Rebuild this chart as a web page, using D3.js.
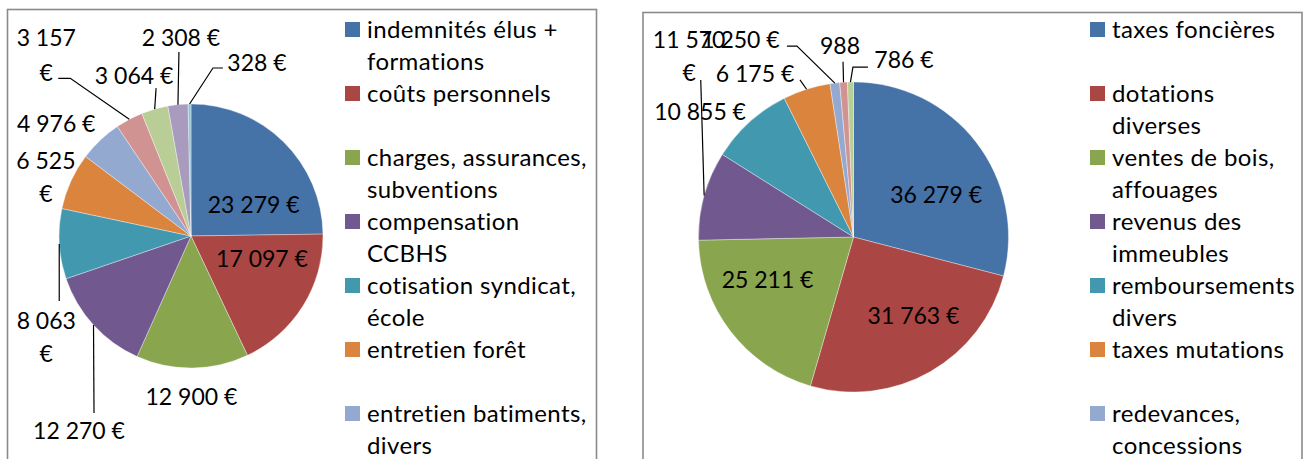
<!DOCTYPE html>
<html>
<head>
<meta charset="utf-8">
<script src="https://cdn.jsdelivr.net/npm/d3@7"></script>
<style>
  body { margin: 0; background: #fff; }
  svg { display: block; }
  text { font-family: Lato, "Open Sans", sans-serif; font-size: 23px; fill: #000; }
  .item text { font-size: 24px; letter-spacing: 0.4px; }
</style>
</head>
<body>
<svg id="chart" width="1306" height="459"></svg>
<script>
// dépenses (left pie)
var leftCategories = [
  "indemnités élus +\nformations",
  "coûts personnels\n",
  "charges, assurances,\nsubventions",
  "compensation\nCCBHS",
  "cotisation syndicat,\nécole",
  "entretien forêt\n",
  "entretien batiments,\ndivers",
  null, null, null, null   // legend entries cut off by the frame
];
var leftValues = [23279, 17097, 12900, 12270, 8063, 6525, 4976, 3157, 3064, 2308, 328];

// recettes (right pie)
var rightCategories = [
  "taxes foncières\n",
  "dotations\ndiverses",
  "ventes de bois,\naffouages",
  "revenus des\nimmeubles",
  "remboursements\ndivers",
  "taxes mutations\n",
  "redevances,\nconcessions",
  null, null
];
var rightValues = [36279, 31763, 25211, 11570, 10855, 6175, 1250, 988, 786];

var palette = ["#4572A7", "#AA4643", "#89A54E", "#71588F", "#4198AF", "#DB843D",
               "#93A9CF", "#D19392", "#B9CD96", "#A99BBD", "#92C5D5"];

// label layout: offset from the slice's outer mid point, optional wrap + leader elbows
var leftLabelLayout = [
  { dx: -30, dy: 63 },
  { dx: -41, dy: -47 },
  { dx: -1, dy: 29 },
  { dx: -14.5, dy: 106, leader: [[0.5, 88]] },
  { dx: -13, dy: 77, wrap: true, leader: [[0, 57]] },
  { dx: -25, dy: -21, wrap: true },
  { dx: -44, dy: -17 },
  { dx: -83, dy: -82, wrap: true, lineGap: 35, leader: [[-59, -41], [-71, -41]] },
  { dx: -20.6, dy: -33, leader: [[1.4, -21]] },
  { dx: 3, dy: -67, leader: [[1, -52.7]] },
  { dx: 67.4, dy: -41.5, leader: [[23.4, -36], [33.4, -36]] }
];
var rightLabelLayout = [
  { dx: -40, dy: 52 },
  { dx: -16.6, dy: -56 },
  { dx: 37, dy: -52 },
  { dx: -15, dy: -155.6, wrap: true, leader: [[-3.4, -115.6]] },
  { dx: -49.4, dy: -10 },
  { dx: -51.6, dy: -15.3, leader: [[-6.6, -9.3]] },
  { dx: -94.4, dy: -43, leader: [[-37.9, -37.1], [-47.9, -37.1]] },
  { dx: -3.5, dy: -37, noUnit: true, leader: [[-0.5, -20.5]] },
  { dx: 53.5, dy: -22, leader: [[2.5, -15], [17.5, -15]] }
];

var fr = d3.formatLocale({ decimal: ",", thousands: " ", grouping: [3], currency: ["", " €"] });
var euro = fr.format("$,.0f");
var plain = fr.format(",.0f");

var svg = d3.select("#chart");
svg.append("rect").attr("width", 1306).attr("height", 459).attr("fill", "#fff");

function drawPie(opt) {
  var g = svg.append("g");

  // frame
  g.append("rect")
    .attr("x", opt.frame[0]).attr("y", opt.frame[1])
    .attr("width", opt.frame[2]).attr("height", opt.frame[3])
    .attr("fill", "none").attr("stroke", "#8a8a8a").attr("stroke-width", 1.6);

  var color = d3.scaleOrdinal().domain(d3.range(opt.values.length)).range(palette);
  var pie = d3.pie().sort(null).value(function(d) { return d; });
  var arcs = pie(opt.values);
  var arc = d3.arc().innerRadius(0).outerRadius(opt.r);

  var pg = g.append("g").attr("transform", "translate(" + opt.cx + "," + opt.cy + ")");

  pg.selectAll("path.slice")
    .data(arcs)
    .enter().append("path")
    .attr("class", "slice")
    .attr("d", arc)
    .attr("fill", function(d, i) { return color(i); })
    .attr("stroke", "#fff")
    .attr("stroke-opacity", 0.6)
    .attr("stroke-width", 0.6);

  // outer mid point of each slice
  function edgePoint(d) {
    var a = (d.startAngle + d.endAngle) / 2;
    return [opt.r * Math.sin(a), -opt.r * Math.cos(a)];
  }

  arcs.forEach(function(d, i) {
    var lay = opt.layout[i];
    var p = edgePoint(d);

    if (lay.leader) {
      var pts = [p].concat(lay.leader.map(function(o) { return [p[0] + o[0], p[1] + o[1]]; }));
      pg.append("path")
        .attr("d", d3.line()(pts))
        .attr("fill", "none")
        .attr("stroke", "#000")
        .attr("stroke-width", 1.2);
    }

    var txt = lay.noUnit ? plain(d.value) : euro(d.value);
    var lines = lay.wrap ? [txt.slice(0, -2), "€"] : [txt];
    var gap = lay.lineGap || 33;
    var t = pg.append("text")
      .attr("text-anchor", "middle")
      .attr("x", p[0] + lay.dx)
      .attr("y", p[1] + lay.dy + 8.3);
    lines.forEach(function(l, j) {
      t.append("tspan")
        .attr("x", p[0] + lay.dx)
        .attr("y", p[1] + lay.dy + 8.3 + j * gap)
        .text(l);
    });
  });

  // legend
  var lg = g.append("g").attr("transform", "translate(" + opt.legend[0] + "," + opt.legend[1] + ")");
  var items = opt.categories
    .map(function(c, i) { return { name: c, i: i }; })
    .filter(function(d) { return d.name !== null; });

  var row = lg.selectAll("g.item")
    .data(items)
    .enter().append("g")
    .attr("class", "item")
    .attr("transform", function(d, k) { return "translate(0," + (k * 64) + ")"; });

  row.append("rect")
    .attr("x", 0).attr("y", -16)
    .attr("width", 15).attr("height", 15)
    .attr("fill", function(d) { return color(d.i); });

  row.append("text")
    .attr("x", 22)
    .each(function(d) {
      var el = d3.select(this);
      d.name.split("\n").forEach(function(l, j) {
        el.append("tspan").attr("x", 22).attr("y", j * 32).text(l);
      });
    });
}

drawPie({
  frame: [7.5, 9.5, 589, 480],
  cx: 191, cy: 236, r: 132,
  values: leftValues,
  categories: leftCategories,
  layout: leftLabelLayout,
  legend: [345, 38]
});

drawPie({
  frame: [643, 12.5, 659, 480],
  cx: 853.5, cy: 237, r: 155,
  values: rightValues,
  categories: rightCategories,
  layout: rightLabelLayout,
  legend: [1090, 38]
});
</script>
</body>
</html>
